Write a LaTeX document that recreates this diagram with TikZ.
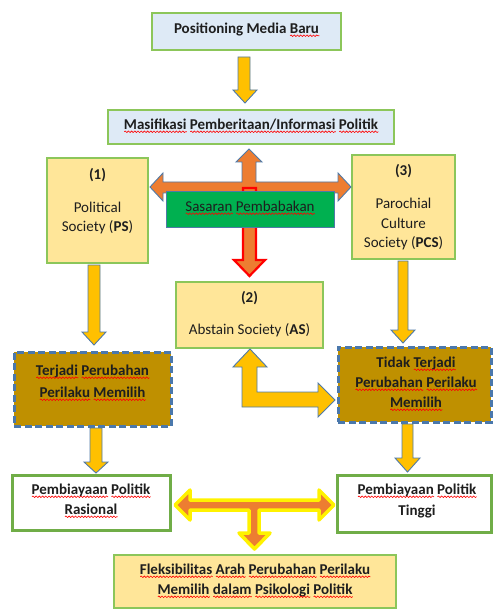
\documentclass[tikz,border=0pt]{standalone}
\usepackage{fontspec}
\setmainfont{Carlito}
\usetikzlibrary{decorations.pathmorphing}
\newlength\sqw
\newcommand\sq[1]{\setbox0\hbox{#1}\setlength\sqw{\wd0}\leavevmode\rlap{\box0}\makebox[\sqw][l]{\raisebox{-3.2pt}{\tikz[x=1pt,y=1pt]{\draw[red,line width=0.6pt,decorate,decoration={snake,amplitude=0.8pt,segment length=3.2pt}] (0,0)--(\sqw,0);}}}}
\definecolor{lblue}{HTML}{DEEAF6}
\definecolor{lgreen}{HTML}{8CC65A}
\definecolor{dgreen}{HTML}{70AD47}
\definecolor{lyel}{HTML}{FFE699}
\definecolor{ayel}{HTML}{FFC000}
\definecolor{aout}{HTML}{4F7AA8}
\definecolor{orng}{HTML}{ED7D31}
\definecolor{gold}{HTML}{BF9000}
\definecolor{dash}{HTML}{4A78AC}
\definecolor{gbox}{HTML}{00B050}
\definecolor{txtc}{HTML}{1E1E1E}
\begin{document}
\begin{tikzpicture}[x=1pt,y=-1pt,
  boxbase/.style={rectangle, inner sep=0pt, outer sep=0pt},
  bluebox/.style={boxbase, fill=lblue, draw=lgreen, line width=1.4pt},
  yelbox/.style={boxbase, fill=lyel, draw=lgreen, line width=1.2pt},
  dashbox/.style={boxbase, fill=gold, draw=dash, line width=3pt, dash pattern=on 7pt off 3.5pt},
  whitebox/.style={boxbase, fill=white, draw=dgreen, line width=3pt},
  greenbox/.style={boxbase, fill=gbox, draw=aout, line width=0.8pt},
  yarrow/.style={fill=ayel, draw=aout, line width=0.9pt, line join=miter},
  txt/.style={inner sep=0pt, font=\fontsize{15}{18}\selectfont, text=txtc},
  btxt/.style={txt, font=\fontsize{15}{18}\selectfont\bfseries}
]
\useasboundingbox (0,0) rectangle (494,609);

% boxes
\node[bluebox, minimum width=189pt, minimum height=37pt] (top) at (246.5,31.5) {};
\node[bluebox, minimum width=286pt, minimum height=34pt] (masi) at (251,127) {};
\node[yelbox, minimum width=101pt, minimum height=105pt] (ps) at (97.5,210.5) {};
\node[yelbox, minimum width=103pt, minimum height=104pt] (pcs) at (403.5,207) {};
\node[yelbox, minimum width=147pt, minimum height=66pt] (as) at (249.5,315) {};
\node[dashbox, minimum width=157pt, minimum height=74pt] (dl) at (92.5,389) {};
\node[dashbox, minimum width=153pt, minimum height=75pt] (dr) at (414.5,384.5) {};
\node[whitebox, minimum width=158pt, minimum height=55pt] (pbl) at (91,502.5) {};
\node[whitebox, minimum width=154pt, minimum height=57pt] (pbr) at (414,503.5) {};
\node[yelbox, minimum width=282pt, minimum height=53pt] (flex) at (255,581.5) {};

% top arrow
\draw[yarrow] (238,57)--(250,57)--(250,90)--(257,90)--(245,103)--(233,90)--(238,90)--cycle;

% orange cross arrow
\draw[fill=orng, draw=aout, line width=0.9pt]
  (150,187)--(163,173)--(163,182)--(242,182)--(242,162)--(236,162)--(249,149)--(262,162)--(256,162)--(256,182)--(338,182)--(338,173)--(351,187)--(338,201)--(338,193)--(163,193)--(163,201)--cycle;

% red down arrow
\draw[fill=orng, draw=red, line width=2.2pt, line join=miter]
  (243,188)--(256,188)--(256,260)--(265,260)--(249.5,276)--(234,260)--(243,260)--cycle;

% green box (on top of arrows)
\node[greenbox, minimum width=168pt, minimum height=36pt] (sas) at (250,209) {};
\node[txt] (sast) at (250,208) {\sq{Sasaran} \sq{Pembabakan}};

% yellow down arrows
\draw[yarrow] (88,265)--(100,265)--(100,332)--(106,332)--(94,345)--(82,332)--(88,332)--cycle;
\draw[yarrow] (398,261)--(408,261)--(408,330)--(415,330)--(403,343)--(391,330)--(398,330)--cycle;
\draw[yarrow] (90,428)--(102,428)--(102,462)--(108,462)--(96,473)--(84,462)--(90,462)--cycle;
\draw[yarrow] (402,424)--(413,424)--(413,458)--(420,458)--(407.5,472)--(395,458)--(402,458)--cycle;

% L-shaped arrow
\draw[yarrow] (250,349)--(267,367)--(257,367)--(257,392)--(318,392)--(318,383)--(335,400)--(318,417)--(318,407)--(242,407)--(242,367)--(233,367)--cycle;

% T arrow
\draw[fill=orng, draw=yellow, line width=3.5pt, line join=round]
  (175,505)--(190,490)--(190,500)--(319,500)--(319,490)--(334,505)--(319,520)--(319,510)--(259,510)--(259,533)--(270,533)--(254.5,549)--(239,533)--(249,533)--(249,510)--(190,510)--(190,520)--cycle;

% texts
\node[btxt] (topt) at (246.5,30) {Positioning Media \sq{Baru}};
\node[btxt] (masit) at (251,126) {\sq{Masifikasi} \sq{Pemberitaan/Informasi} \sq{Politik}};

\node[btxt] (ps1) at (97.5,175) {(1)};
\node[txt] (ps2) at (97.5,207) {Political};
\node[txt] (ps3) at (97.5,227) {Society (\textbf{PS})};

\node[btxt] (pcs1) at (403.5,171) {(3)};
\node[txt] (pcs2) at (403.5,203) {Parochial};
\node[txt] (pcs3) at (403.5,223) {Culture};
\node[txt] (pcs4) at (403.5,243) {Society (\textbf{PCS})};

\node[btxt] (as1) at (249.5,298) {(2)};
\node[txt] (as2) at (249.5,330) {Abstain Society (\textbf{AS})};

\node[btxt] (dl1) at (92.5,372) {\sq{Terjadi} \sq{Perubahan}};
\node[btxt] (dl2) at (92.5,394) {\sq{Perilaku} \sq{Memilih}};

\node[btxt] (dr1) at (416,364) {Tidak \sq{Terjadi}};
\node[btxt] (dr2) at (416,384) {\sq{Perubahan} \sq{Perilaku}};
\node[btxt] (dr3) at (416,404) {\sq{Memilih}};

\node[btxt] (pbl1) at (91,491) {\sq{Pembiayaan} \sq{Politik}};
\node[btxt] (pbl2) at (91,511) {\sq{Rasional}};

\node[btxt] (pbr1) at (417,491) {\sq{Pembiayaan} \sq{Politik}};
\node[btxt] (pbr2) at (417,512) {Tinggi};

\node[btxt] (fl1) at (255,571) {\sq{Fleksibilitas} \sq{Arah} \sq{Perubahan} \sq{Perilaku}};
\node[btxt] (fl2) at (255,591) {\sq{Memilih} \sq{dalam} \sq{Psikologi} \sq{Politik}};
\end{tikzpicture}
\end{document}
